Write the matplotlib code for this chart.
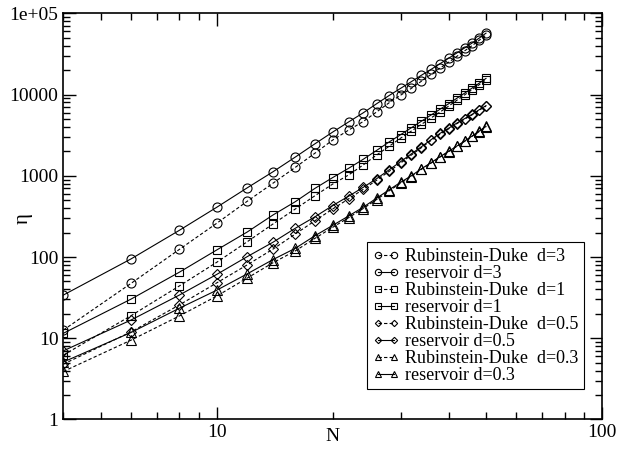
import matplotlib
matplotlib.use("Agg")
import matplotlib.pyplot as plt
from matplotlib.ticker import LogLocator, FixedLocator, FixedFormatter, NullFormatter

plt.rcParams['font.family'] = ['Liberation Serif', 'DejaVu Serif']

N = [4, 6, 8, 10, 12, 14, 16, 18, 20, 22, 24, 26, 28, 30, 32, 34, 36, 38, 40, 42, 44, 46, 48, 50]

rd_3 = [12.6, 47.5, 124, 260, 485, 810, 1270, 1900, 2750, 3650, 4650, 6100, 7900, 9800, 11900,
        14600, 17700, 21200, 25000, 29500, 34500, 40000, 46500, 54000]
res_3 = [34, 95, 213, 409, 710, 1120, 1700, 2480, 3450, 4600, 5950, 7700, 9700, 11900, 14400,
         17300, 20400, 24000, 28000, 32500, 37500, 43000, 49500, 57000]
rd_1 = [6.2, 19, 44, 86, 154, 255, 390, 569, 790, 1023, 1358, 1800, 2300, 2900, 3550,
        4300, 5150, 6100, 7200, 8500, 9900, 11500, 13200, 15200]
res_1 = [11.5, 30.4, 65, 122, 203, 329, 480, 701, 950, 1236, 1595, 2050, 2600, 3200, 3900,
         4700, 5600, 6600, 7700, 9000, 10400, 12000, 13800, 15800]
rd_05 = [4.8, 12, 25.7, 48, 80, 125, 192, 280, 390, 520, 680, 880, 1130, 1430, 1800,
         2220, 2720, 3250, 3780, 4380, 4980, 5620, 6420, 7200]
res_05 = [7.0, 16.8, 34, 61, 101, 152, 226, 313, 430, 560, 720, 920, 1180, 1490, 1860,
          2280, 2780, 3330, 3850, 4450, 5050, 5700, 6500, 7300]
rd_03 = [3.9, 9.5, 18.8, 33, 55, 85, 119, 170, 232, 305, 395, 510, 650, 810, 980,
         1200, 1430, 1700, 1980, 2300, 2650, 3050, 3500, 4000]
res_03 = [5.1, 11.8, 23.4, 39, 62, 93, 128, 183, 245, 320, 410, 530, 670, 830, 1000,
          1220, 1450, 1720, 2000, 2320, 2680, 3080, 3550, 4050]

series = [
    (rd_3, 'o', '--', 'Rubinstein-Duke  d=3'),
    (res_3, 'o', '-', 'reservoir d=3'),
    (rd_1, 's', '--', 'Rubinstein-Duke  d=1'),
    (res_1, 's', '-', 'reservoir d=1'),
    (rd_05, 'D', '--', 'Rubinstein-Duke  d=0.5'),
    (res_05, 'D', '-', 'reservoir d=0.5'),
    (rd_03, '^', '--', 'Rubinstein-Duke  d=0.3'),
    (res_03, '^', '-', 'reservoir d=0.3'),
]

fig = plt.figure(figsize=(6.19, 4.5), dpi=100)
ax = fig.add_axes([0.1023, 0.0678, 0.8702, 0.9026])

for y, m, ls, lab in series:
    ms = 6.5 if m in ('o', '^') else 5.2
    if m == 'D':
        ms = 4.6
    ax.plot(N, y, color='black', linestyle=ls, linewidth=0.8, marker=m, markersize=ms,
            markerfacecolor='none', markeredgecolor='black', markeredgewidth=0.8,
            dashes=(3, 2) if ls == '--' else (None, None), label=lab)

ax.set_xscale('log')
ax.set_yscale('log')
ax.set_xlim(4, 100)
ax.set_ylim(1, 1e5)

ax.yaxis.set_major_locator(FixedLocator([1, 10, 100, 1000, 10000, 100000]))
ax.yaxis.set_major_formatter(FixedFormatter(['1', '10', '100', '1000', '10000', '1e+05']))
ax.yaxis.set_minor_locator(LogLocator(base=10, subs=range(2, 10)))
ax.yaxis.set_minor_formatter(NullFormatter())
ax.xaxis.set_major_locator(FixedLocator([10, 100]))
ax.xaxis.set_major_formatter(FixedFormatter(['10', '100']))
ax.xaxis.set_minor_locator(LogLocator(base=10, subs=range(2, 10)))
ax.xaxis.set_minor_formatter(NullFormatter())

ax.tick_params(which='both', direction='in', top=True, right=True, width=1, labelsize=14)
ax.tick_params(which='major', length=9)
ax.tick_params(which='minor', length=5)
for s in ax.spines.values():
    s.set_linewidth(1.2)

# axis labels placed by hand, close to the ticks like in the original
fig.text(0.537, 0.029, 'N', fontsize=14, ha='center', va='center')
fig.text(0.037, 0.515, 'η', fontsize=15, ha='center', va='center', rotation=90)

leg = ax.legend(loc='lower right', bbox_to_anchor=(0.9666, 0.0743), fontsize=13,
                frameon=True, fancybox=False, edgecolor='black', framealpha=1,
                numpoints=2, handlelength=1.5, handletextpad=0.3, labelspacing=0.0,
                borderpad=0.3, markerscale=0.7, borderaxespad=0)
leg.get_frame().set_linewidth(0.8)

fig.savefig('out.png', dpi=100)
